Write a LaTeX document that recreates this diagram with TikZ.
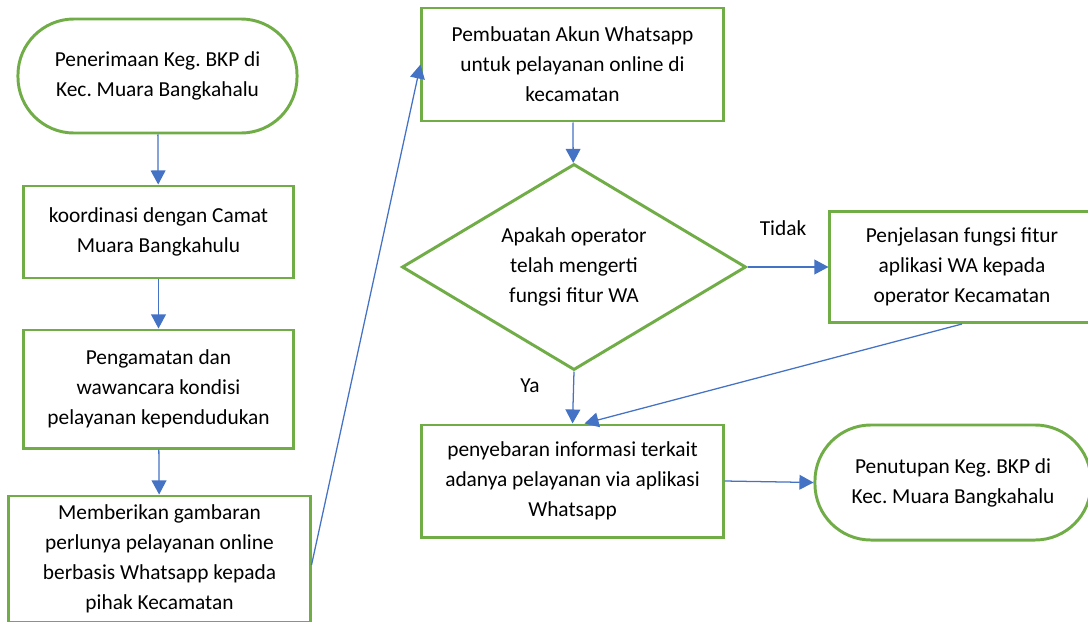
\documentclass[tikz,border=0pt]{standalone}
\usepackage{fontspec}
\setmainfont{Carlito}
\frenchspacing
\usetikzlibrary{calc,positioning,arrows.meta,shapes.geometric}
\definecolor{wagreen}{RGB}{112,173,71}
\definecolor{wablue}{RGB}{68,114,196}
\tikzset{
>={Triangle[length=10pt,width=10.5pt]},
  proses/.style={
    rectangle,
    draw=wagreen, line width=2.1pt,
    fill=white,
    inner sep=0pt,
    align=center,
    font=\fontsize{15.2}{21.3}\selectfont},
  terminal/.style={proses, rounded corners=1.4cm},
  keputusan/.style={
    diamond, aspect=1.67,
    draw=wagreen, line width=2.1pt,
    inner sep=0pt,
    align=center,
    font=\fontsize{15.2}{21.3}\selectfont},
  line/.style={draw=wablue, line width=0.9pt, ->},
  ket/.style={font=\fontsize{15.2}{21.3}\selectfont},
}

\begin{document}
\begin{tikzpicture}
  [x=0.025cm, y=-0.025cm]
  \useasboundingbox (0,0) rectangle (1088,621);

    % kolom kiri
    \node[terminal, minimum width=6.975cm, minimum height=2.85cm] (mulai) at (157.5,76)
      {Penerimaan Keg. BKP di\\Kec. Muara Bangkahalu};
    \node[proses, minimum width=6.725cm, minimum height=2.3cm] (koord) at (158.5,232)
      {koordinasi dengan Camat\\Muara Bangkahulu};
    \node[proses, minimum width=6.725cm, minimum height=2.95cm] (amati) at (158.5,389)
      {Pengamatan dan\\wawancara kondisi\\pelayanan kependudukan};
    \node[proses, minimum width=7.525cm, minimum height=3.15cm] (gambar) at (159.5,559)
      {Memberikan gambaran\\perlunya pelayanan online\\berbasis Whatsapp kepada\\pihak Kecamatan};

    % kolom tengah
    \node[proses, minimum width=7.525cm, minimum height=2.825cm] (akun) at (572.5,64.5)
      {Pembuatan Akun Whatsapp\\untuk pelayanan online di\\kecamatan};
    \node[keputusan, minimum width=8.6cm, minimum height=5.15cm] (tanya) at (574,267)
      {Apakah operator\\telah mengerti\\fungsi fitur WA};
    \node[proses, minimum width=7.525cm, minimum height=2.8cm] (sebar) at (572.5,481)
      {penyebaran informasi terkait\\adanya pelayanan via aplikasi\\Whatsapp};

    % kolom kanan
    \node[proses, minimum width=6.6cm, minimum height=2.775cm] (jelas) at (962,267)
      {Penjelasan fungsi fitur\\aplikasi WA kepada\\operator Kecamatan};
    \node[terminal, minimum width=6.9cm, minimum height=2.875cm] (selesai) at (953,482.5)
      {Penutupan Keg. BKP di\\Kec. Muara Bangkahalu};

    \node[ket] (tidak) at (783,228) {Tidak};
    \node[ket] (ya) at (530,386) {Ya};

    \draw[line] (mulai) -- (koord);
    \draw[line] (koord) -- (amati);
    \draw[line] (amati) -- (gambar);
    \draw[line] ([yshift=-0.15cm]gambar.east) -- (akun.west);
    \draw[line] (akun) -- (tanya);
    \draw[line] (tanya.east) -- (jelas.west);
    \draw[line] (tanya.south) -- (sebar.north);
    \draw[line] (jelas.south) -- ([xshift=0.3cm]sebar.north);
    \draw[line] (sebar.east) -- (selesai.west);

  \end{tikzpicture}
\end{document}
